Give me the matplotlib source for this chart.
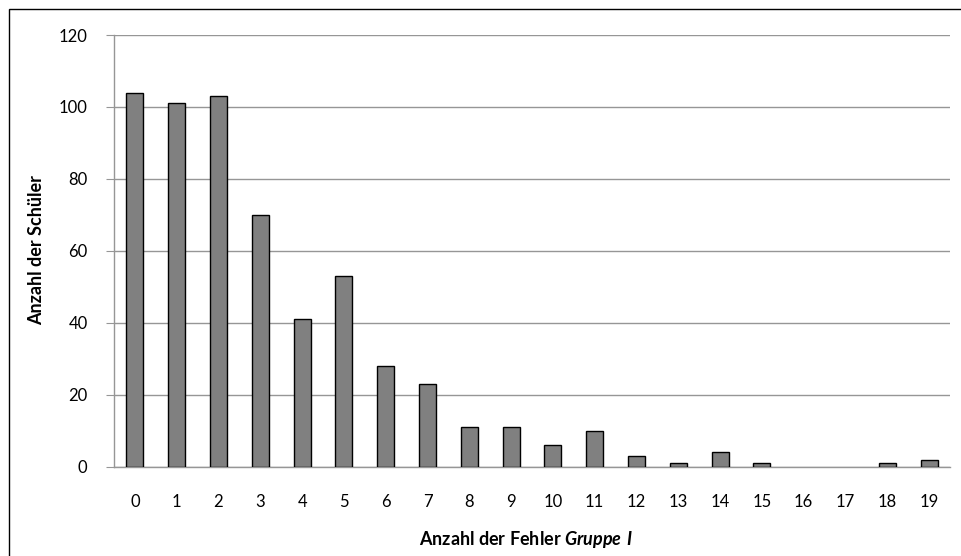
import matplotlib.pyplot as plt
from matplotlib.patches import Rectangle
import numpy as np

plt.rcParams['font.family'] = ['Lato', 'DejaVu Sans']
plt.rcParams['mathtext.fontset'] = 'custom'
plt.rcParams['mathtext.bfit'] = 'Lato:italic:bold'
plt.rcParams['mathtext.rm'] = 'Lato:bold'

# Fehleranzahl (Gruppe I) und Anzahl der Schüler
fehler = list(range(20))
schueler = [104, 101, 103, 70, 41, 53, 28, 23, 11, 11, 6, 10, 3, 1, 4, 1, 0, 0, 1, 2]
y_ticks = [0, 20, 40, 60, 80, 100, 120]

W, H = 961, 556
fig = plt.figure(figsize=(W / 100, H / 100), dpi=100)
ax = fig.add_axes([114 / W, 1 - 466.7 / H, (950 - 114) / W, (466.7 - 35) / H])

x = np.arange(len(fehler))
# Leere Kategorien ohne Umriss zeichnen
edges = ['black' if v > 0 else 'none' for v in schueler]
ax.bar(x, schueler, width=0.41, color='#808080', edgecolor=edges, linewidth=1.0, zorder=3)

ax.set_xlim(-0.5, len(fehler) - 0.5)
ax.set_ylim(0, 120)
ax.set_yticks(y_ticks)
ax.set_xticks(x)
ax.set_xticklabels([str(f) for f in fehler])

ax.yaxis.grid(True, color='#969696', linewidth=1.0, zorder=0)
for s in ['top', 'right']:
    ax.spines[s].set_visible(False)
for s in ['left', 'bottom']:
    ax.spines[s].set_color('#969696')
    ax.spines[s].set_linewidth(1.0)

ax.tick_params(axis='y', length=6, color='#969696', labelsize=12, pad=13)
ax.tick_params(axis='x', length=0, labelsize=12, pad=20)

fig.text(37 / W, 1 - 250 / H, 'Anzahl der Schüler', rotation=90, ha='center', va='center',
         fontsize=13, fontweight='bold')
fig.text(526 / W, 1 - 540 / H, 'Anzahl der Fehler $\\mathbfit{Gruppe\\ I}$', ha='center', va='center',
         fontsize=13, fontweight='bold')

# Rahmen um das gesamte Diagramm (rechts und unten abgeschnitten)
fig.patches.append(Rectangle((8.5 / W, -10 / H), 980 / W, (556 - 8.5 + 10) / H, transform=fig.transFigure,
                             fill=False, edgecolor='black', linewidth=1.0))

fig.savefig('out.png', dpi=100)
